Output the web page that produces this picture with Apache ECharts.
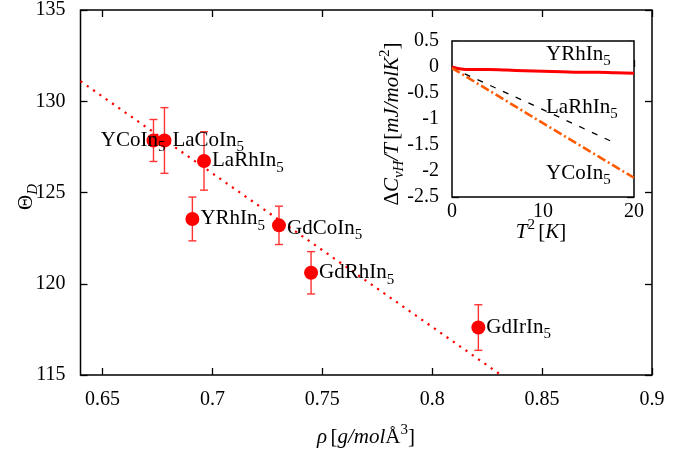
<!DOCTYPE html>
<html>
<head>
<meta charset="utf-8">
<script src="https://cdn.jsdelivr.net/npm/echarts@6/dist/echarts.min.js"></script>
<style>
  html, body { margin: 0; padding: 0; background: #fff; }
  #chart { width: 696px; height: 453px; }
</style>
</head>
<body>
<div id="chart"></div>
<script>
  // main plot: Debye temperature vs density
  const compounds = ['YCoIn5', 'LaCoIn5', 'LaRhIn5', 'YRhIn5', 'GdCoIn5', 'GdRhIn5', 'GdIrIn5'];
  const density = [0.6732, 0.6782, 0.6962, 0.6909, 0.7303, 0.7449, 0.8210];
  const thetaD = [127.85, 127.85, 126.73, 123.55, 123.2, 120.6, 117.6];
  const thetaErr = [1.15, 1.8, 1.6, 1.2, 1.05, 1.16, 1.25];
  // dotted linear fit, end points
  const fitX = [0.64, 0.8313];
  const fitY = [131.1, 115];
  const xTicks = [0.65, 0.7, 0.75, 0.8, 0.85, 0.9];

  // inset: Delta C / T vs T^2
  const t2YRh = [0, 1, 2, 4, 6, 8, 10, 12, 14, 16, 18, 20];
  const cYRh = [0, -0.04, -0.05, -0.05, -0.06, -0.07, -0.08, -0.09, -0.1, -0.1, -0.11, -0.12];
  const t2LaRh = [0, 10, 18];
  const cLaRh = [-0.02, -0.82, -1.47];
  const t2YCo = [0, 10, 20];
  const cYCo = [-0.02, -1.08, -2.13];

  const FONT = '"Liberation Serif", "DejaVu Serif", serif';
  const rich = {
    n: { fontFamily: FONT, fontSize: 21, color: '#000' },
    i: { fontFamily: FONT, fontSize: 21, fontStyle: 'italic', color: '#000' },
    sub: { fontFamily: FONT, fontSize: 15, color: '#000', verticalAlign: 'bottom', padding: [0, 0, -4, 0] },
    isub: { fontFamily: FONT, fontSize: 15, fontStyle: 'italic', color: '#000', verticalAlign: 'bottom', padding: [0, 0, -4, 0] },
    sup: { fontFamily: FONT, fontSize: 15, color: '#000', verticalAlign: 'top', padding: [-4, 0, 0, 0] }
  };
  function chem(name) {
    return name.replace(/^(.*?)(\d)$/, '{n|$1}{sub|$2}');
  }

  const mychart = echarts.init(document.getElementById('chart'), null, { renderer: 'canvas' });

  const tickStyle = { inside: true, length: 7, lineStyle: { color: '#000', width: 1.3 } };
  const labelStyle = { fontFamily: FONT, fontSize: 20, color: '#000' };

  const pointData = compounds.map((c, i) => {
    const item = { name: c, value: [density[i], thetaD[i]] };
    if (c === 'YCoIn5') item.label = { position: 'left', distance: -19 };
    if (c === 'GdCoIn5') item.label = { offset: [0, 3] };
    return item;
  });

  mychart.setOption({
    animation: false,
    grid: [
      { left: 80.5, right: 44, top: 8, bottom: 78, show: true, borderColor: '#000', borderWidth: 1.5, backgroundColor: 'transparent' },
      { left: 452, right: 62, top: 41, bottom: 256, show: true, borderColor: '#000', borderWidth: 1.5, backgroundColor: '#fff', z: 5 }
    ],
    xAxis: [
      {
        gridIndex: 0, type: 'value', min: 0.64, max: 0.9,
        axisLine: { show: false }, splitLine: { show: false },
        axisTick: Object.assign({ customValues: xTicks }, tickStyle),
        axisLabel: Object.assign({ customValues: xTicks, margin: 15 }, labelStyle)
      },
      {
        gridIndex: 0, type: 'value', position: 'top', min: 0.64, max: 0.9,
        axisLine: { show: false }, splitLine: { show: false },
        axisTick: Object.assign({ customValues: xTicks }, tickStyle),
        axisLabel: { show: false }
      },
      {
        gridIndex: 1, type: 'value', min: 0, max: 20, interval: 10,
        axisLine: { show: false }, splitLine: { show: false },
        axisTick: tickStyle,
        axisLabel: Object.assign({ margin: 5 }, labelStyle)
      }
    ],
    yAxis: [
      {
        gridIndex: 0, type: 'value', min: 115, max: 135, interval: 5,
        axisLine: { show: false }, splitLine: { show: false },
        axisTick: tickStyle,
        axisLabel: Object.assign({ margin: 15 }, labelStyle)
      },
      {
        gridIndex: 0, type: 'value', position: 'right', min: 115, max: 135, interval: 5,
        axisLine: { show: false }, splitLine: { show: false },
        axisTick: tickStyle, axisLabel: { show: false }
      },
      {
        gridIndex: 1, type: 'value', min: -2.5, max: 0.5, interval: 0.5,
        axisLine: { show: false }, splitLine: { show: false },
        axisTick: tickStyle,
        axisLabel: Object.assign({ margin: 13 }, labelStyle)
      },
      {
        gridIndex: 1, type: 'value', position: 'right', min: -2.5, max: 0.5, interval: 0.5,
        axisLine: { show: false }, splitLine: { show: false },
        axisTick: tickStyle, axisLabel: { show: false }
      }
    ],
    series: [
      {
        name: 'fit', type: 'line', xAxisIndex: 0, yAxisIndex: 0,
        data: fitX.map((x, i) => [x, fitY[i]]),
        showSymbol: false, symbol: 'none',
        lineStyle: { color: '#ff0000', width: 2.2, type: [2.2, 5.5] },
        z: 2
      },
      {
        name: 'err', type: 'custom', xAxisIndex: 0, yAxisIndex: 0,
        data: density.map((x, i) => [x, thetaD[i] - thetaErr[i], thetaD[i] + thetaErr[i]]),
        encode: { x: 0, y: [1, 2] },
        renderItem: function (params, api) {
          const lo = api.coord([api.value(0), api.value(1)]);
          const hi = api.coord([api.value(0), api.value(2)]);
          const cap = 4;
          const st = { stroke: '#ff3333', lineWidth: 1.4 };
          return {
            type: 'group',
            children: [
              { type: 'line', shape: { x1: lo[0], y1: lo[1], x2: hi[0], y2: hi[1] }, style: st },
              { type: 'line', shape: { x1: lo[0] - cap, y1: lo[1], x2: lo[0] + cap, y2: lo[1] }, style: st },
              { type: 'line', shape: { x1: hi[0] - cap, y1: hi[1], x2: hi[0] + cap, y2: hi[1] }, style: st }
            ]
          };
        },
        z: 3
      },
      {
        name: 'points', type: 'scatter', xAxisIndex: 0, yAxisIndex: 0,
        data: pointData,
        symbolSize: 14,
        itemStyle: { color: '#ff0000', opacity: 1 },
        label: {
          show: true, position: 'right', distance: 1,
          formatter: p => chem(p.name),
          rich: rich
        },
        z: 4
      },
      {
        name: 'YRhIn5', type: 'line', xAxisIndex: 2, yAxisIndex: 2,
        data: t2YRh.map((x, i) => [x, cYRh[i]]), symbol: 'none', smooth: true,
        lineStyle: { color: '#ff0000', width: 3 }, z: 6
      },
      {
        name: 'LaRhIn5', type: 'line', xAxisIndex: 2, yAxisIndex: 2,
        data: t2LaRh.map((x, i) => [x, cLaRh[i]]), symbol: 'none',
        lineStyle: { color: '#000', width: 1.3, type: [6, 8] }, z: 6
      },
      {
        name: 'YCoIn5', type: 'line', xAxisIndex: 2, yAxisIndex: 2,
        data: t2YCo.map((x, i) => [x, cYCo[i]]), symbol: 'none',
        lineStyle: { color: '#ff5a00', width: 2.6, type: [9, 3, 2, 3] }, z: 6
      }
    ],
    graphic: [
      // main axis titles
      { type: 'text', x: 366, y: 437, z: 10,
        style: { text: '{i|ρ} {n|[}{i|g/mol}{n|Å}{sup|3}{n|]}', rich: rich, align: 'center', verticalAlign: 'middle' } },
      { type: 'text', x: 26, y: 197, rotation: Math.PI / 2, z: 10,
        style: { text: '{n|Θ}{isub|D}', rich: rich, align: 'center', verticalAlign: 'middle' } },
      // inset axis titles
      { type: 'text', x: 541, y: 232, z: 10,
        style: { text: '{i|T}{sup|2} {n|[}{i|K}{n|]}', rich: rich, align: 'center', verticalAlign: 'middle' } },
      { type: 'text', x: 392, y: 124, rotation: Math.PI / 2, z: 10,
        style: { text: '{n|Δ}{i|C}{isub|vH}{i|/T} {n|[}{i|mJ/molK}{sup|2}{n|]}', rich: rich, align: 'center', verticalAlign: 'middle' } },
      // inset key
      { type: 'text', x: 546, y: 54, z: 10,
        style: { text: chem('YRhIn5'), rich: rich, align: 'left', verticalAlign: 'middle' } },
      { type: 'text', x: 546, y: 107, z: 10,
        style: { text: chem('LaRhIn5'), rich: rich, align: 'left', verticalAlign: 'middle' } },
      { type: 'text', x: 546, y: 173, z: 10,
        style: { text: chem('YCoIn5'), rich: rich, align: 'left', verticalAlign: 'middle' } }
    ]
  });
</script>
</body>
</html>
